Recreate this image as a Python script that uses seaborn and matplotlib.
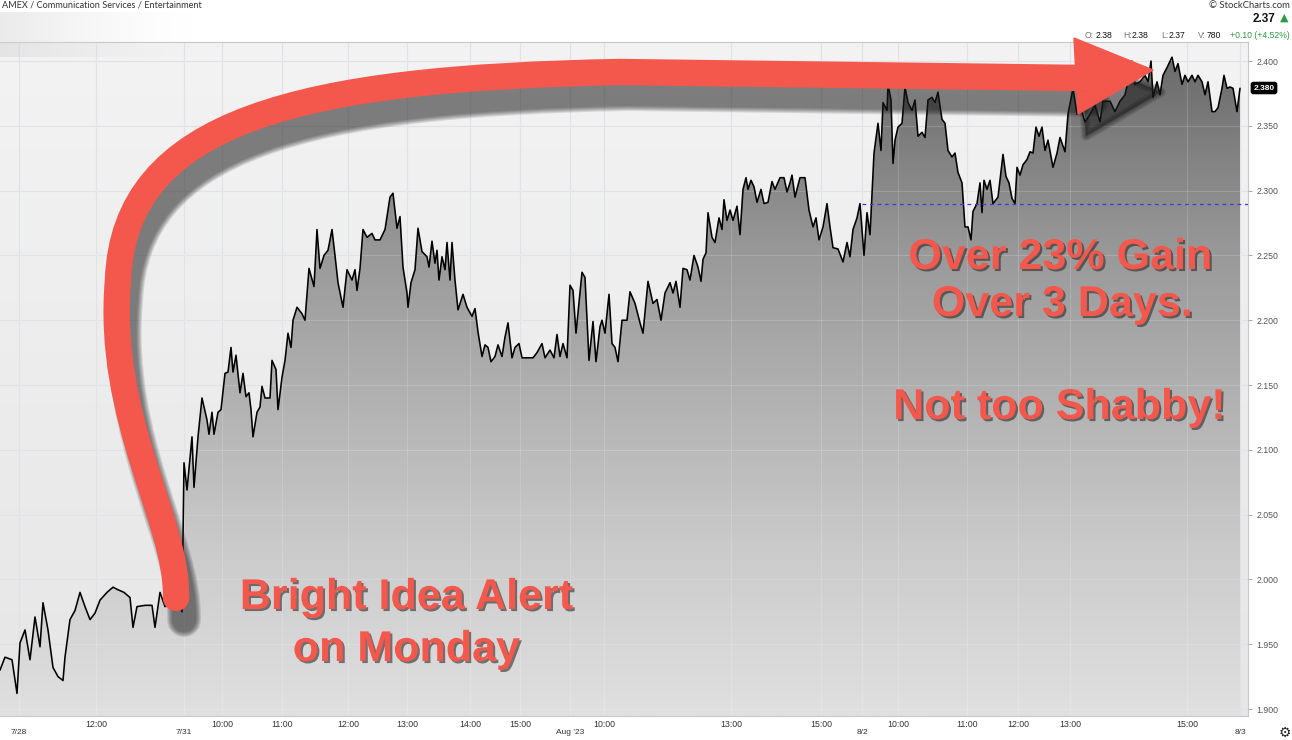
import numpy as np
import matplotlib
matplotlib.use('Agg')
import matplotlib.pyplot as plt
import matplotlib.patheffects as pe
from matplotlib.colors import LinearSegmentedColormap
from matplotlib.patches import Polygon, PathPatch
from matplotlib.path import Path
from matplotlib.transforms import Affine2D
import seaborn as sns

# intraday bars (bar index along the session axis) and closing prices
bar_idx = [0, 5, 12, 17, 20, 25, 30, 35, 40, 43, 48, 53, 58, 63, 65, 70, 75, 80, 85, 90,
           95, 100, 107, 113, 118, 124, 130, 133, 137, 145, 152, 155, 160, 165, 170, 175, 180, 182,
           184, 187, 192, 194, 198, 202, 207, 209, 212, 214, 218, 221, 225, 228, 231, 233, 236, 240,
           243, 246, 249, 251, 253, 257, 260, 262, 265, 270, 272, 276, 278, 282, 285, 288, 291, 293,
           297, 302, 305, 309, 314, 317, 320, 324, 328, 332, 335, 338, 343, 347, 352, 355, 357, 360,
           363, 367, 372, 375, 380, 385, 390, 393, 397, 400, 403, 407, 408, 411, 415, 418, 422, 427,
           429, 432, 435, 437, 439, 442, 445, 447, 450, 452, 455, 458, 463, 467, 472, 475, 478, 482,
           485, 488, 491, 495, 498, 502, 505, 508, 512, 515, 519, 522, 533, 537, 542, 545, 550, 554,
           557, 560, 563, 567,
           570, 573, 576, 582, 585, 589, 593, 596, 600, 602, 605, 609, 612, 615, 618, 622, 627, 630,
           635, 640, 643, 648, 653, 657, 661, 665, 670, 673, 676, 680, 683, 687, 690, 694, 698, 701,
           703, 706, 708, 712, 715, 719, 722, 724, 727, 730, 733, 737, 740, 743, 746, 748, 751, 754,
           757, 761, 764, 768, 772, 775, 780, 784, 787, 790, 792, 795, 800, 805, 809, 813, 816, 819,
           823, 827, 830, 833, 838, 843, 847, 850, 853, 857, 860, 864, 867, 870,
           874, 878, 881, 883, 887, 888, 891, 893, 895, 898, 902, 905, 908, 912, 915, 918, 922, 925,
           928, 932, 935, 938, 942, 945, 948, 952, 955, 958, 962, 965, 968, 971, 973, 977, 980, 982,
           984, 987, 990, 993, 998, 1003, 1006, 1009, 1012, 1015, 1017, 1020, 1023, 1027, 1030, 1033,
           1036, 1039, 1042, 1045, 1048, 1053, 1057, 1060, 1065, 1068, 1073, 1077, 1080, 1085, 1090,
           1095, 1100, 1103, 1110, 1115, 1120, 1125, 1128, 1132, 1135, 1140, 1145, 1148, 1151, 1153,
           1157, 1160, 1163, 1167, 1172, 1175, 1178, 1182, 1185, 1188, 1192, 1195, 1198, 1202, 1205,
           1208, 1212, 1215, 1218, 1222, 1224, 1227, 1230, 1233, 1237, 1240]
close = [1.930, 1.940, 1.938, 1.912, 1.951, 1.961, 1.938, 1.971, 1.948, 1.982, 1.961, 1.932, 1.925,
         1.922, 1.940, 1.969, 1.976, 1.990, 1.979, 1.969, 1.974, 1.984, 1.990, 1.994, 1.992, 1.990,
         1.986, 1.963, 1.979, 1.980, 1.980, 1.963, 1.990, 1.979, 1.984, 1.976, 1.979, 1.975,
         2.090, 2.069, 2.110, 2.071, 2.110, 2.140, 2.123, 2.112, 2.129, 2.112, 2.129, 2.131, 2.159,
         2.160, 2.179, 2.160, 2.173, 2.144, 2.159, 2.141, 2.144, 2.131, 2.110, 2.129, 2.133, 2.149,
         2.140, 2.140, 2.169, 2.162, 2.131, 2.156, 2.169, 2.190, 2.179, 2.200, 2.210, 2.205, 2.200,
         2.240, 2.226, 2.270, 2.240, 2.250, 2.254, 2.270, 2.250, 2.229, 2.210, 2.239, 2.231, 2.239,
         2.223, 2.240, 2.270, 2.264, 2.267, 2.262, 2.262, 2.270, 2.295, 2.298, 2.271, 2.280, 2.241,
         2.221, 2.210, 2.229, 2.239, 2.271, 2.253, 2.249, 2.241, 2.261, 2.244, 2.254, 2.231, 2.249,
         2.239, 2.260, 2.231, 2.260, 2.231, 2.208, 2.220, 2.210, 2.203, 2.209, 2.191, 2.172, 2.181,
         2.179, 2.168, 2.172, 2.181, 2.172, 2.187, 2.198, 2.171, 2.179, 2.182, 2.171, 2.171, 2.175,
         2.182, 2.171, 2.177, 2.171, 2.189, 2.172, 2.182, 2.171,
         2.227, 2.223, 2.190, 2.237, 2.233, 2.169, 2.199, 2.168, 2.195, 2.200, 2.190, 2.220, 2.182,
         2.179, 2.168, 2.200, 2.200, 2.222, 2.213, 2.198, 2.190, 2.230, 2.213, 2.216, 2.200, 2.221,
         2.229, 2.221, 2.230, 2.210, 2.240, 2.239, 2.231, 2.250, 2.241, 2.230, 2.247, 2.252, 2.283,
         2.264, 2.260, 2.279, 2.270, 2.293, 2.277, 2.285, 2.277, 2.288, 2.266, 2.301, 2.310, 2.301,
         2.308, 2.303, 2.291, 2.301, 2.290, 2.291, 2.307, 2.301, 2.310, 2.310, 2.299, 2.306, 2.312,
         2.295, 2.310, 2.310, 2.285, 2.272, 2.279, 2.262, 2.272, 2.290, 2.272, 2.256, 2.255, 2.245,
         2.260, 2.249, 2.270, 2.279, 2.290, 2.250, 2.283, 2.266,
         2.329, 2.352, 2.331, 2.368, 2.362, 2.382, 2.370, 2.321, 2.339, 2.349, 2.352, 2.380, 2.368,
         2.362, 2.370, 2.342, 2.345, 2.341, 2.370, 2.372, 2.368, 2.376, 2.355, 2.352, 2.331, 2.326,
         2.329, 2.314, 2.306, 2.272, 2.272, 2.262, 2.284, 2.290, 2.306, 2.283, 2.308, 2.301, 2.308,
         2.290, 2.295, 2.328, 2.311, 2.306, 2.294, 2.290, 2.318, 2.312, 2.320, 2.324, 2.330, 2.329,
         2.349, 2.342, 2.349, 2.331, 2.339, 2.318, 2.329, 2.341, 2.330, 2.359, 2.379, 2.359, 2.366,
         2.353, 2.359, 2.366, 2.353, 2.369, 2.369, 2.361, 2.369, 2.374, 2.384, 2.400, 2.382, 2.384,
         2.389, 2.384, 2.400, 2.372, 2.384, 2.374, 2.389, 2.395, 2.403, 2.392, 2.398, 2.382, 2.389,
         2.384, 2.389, 2.384, 2.389, 2.384, 2.374, 2.384, 2.361, 2.361, 2.364, 2.379, 2.389, 2.379,
         2.380, 2.379, 2.361, 2.379]

time_pos = [96, 222, 282, 348, 407, 470, 520, 604, 731, 821, 898, 967, 1018, 1070, 1187]
time_lbl = ['12:00', '10:00', '11:00', '12:00', '13:00', '14:00', '15:00', '10:00', '13:00',
            '15:00', '10:00', '11:00', '12:00', '13:00', '15:00']
date_pos = [19, 184, 570, 862, 1240]
date_lbl = ['7/28', '7/31', "Aug '23", '8/2', '8/3']
price_ticks = [1.90, 1.95, 2.00, 2.05, 2.10, 2.15, 2.20, 2.25, 2.30, 2.35, 2.40]
ref_level = 2.29
last_close = 2.38
red = '#f4584c'

sns.set_theme(style='white')
plt.rcParams['font.family'] = ['Liberation Sans', 'DejaVu Sans']

fig = plt.figure(figsize=(12.92, 7.40), dpi=100)
ax = fig.add_axes([0, 24 / 740, 1248 / 1292, 674 / 740])
x0, x1 = 0, 1248
y0, y1 = 1.8946, 2.4147

# background + area gradient
bg = LinearSegmentedColormap.from_list('bg', ['#e6e6e6', '#f3f3f3'])
ax.imshow(np.linspace(0, 1, 256).reshape(-1, 1), extent=[x0, x1, y0, y1], origin='lower',
          aspect='auto', cmap=bg, zorder=0)
area = LinearSegmentedColormap.from_list('area', [(0, '#e0e0e0'), (0.25, '#cbcbcb'),
                                                  (0.7, '#9a9a9a'), (1, '#6c6c6c')])
im = ax.imshow(np.linspace(0, 1, 256).reshape(-1, 1), extent=[x0, x1, y0, 2.40], origin='lower',
               aspect='auto', cmap=area, zorder=3)
verts = list(zip(bar_idx, close)) + [(bar_idx[-1], y0), (bar_idx[0], y0)]
clip = Polygon(verts, closed=True, facecolor='none', edgecolor='none', transform=ax.transData)
ax.add_patch(clip)
im.set_clip_path(clip)

# faint grid visible through the shaded area
ax.vlines(time_pos + date_pos, y0, y1, colors='white', alpha=0.16, linewidth=0.8, zorder=3.5)
ax.hlines(price_ticks, x0, x1, colors='white', alpha=0.16, linewidth=0.8, zorder=3.5)

sns.lineplot(x=bar_idx, y=close, ax=ax, color='black', linewidth=1.15, zorder=4)
ax.hlines(ref_level, 862, x1, colors='#3b3bd6', linestyles=(0, (3, 3)), linewidth=0.9, zorder=5)

ax.set_xlim(x0, x1)
ax.set_ylim(y0, y1)
ax.set_xticks(time_pos)
ax.set_xticklabels(time_lbl)
ax.set_xticks(date_pos, minor=True)
ax.set_xticklabels(date_lbl, minor=True)
ax.tick_params(axis='x', which='major', length=0, pad=3, labelsize=6.3, colors='#333333')
ax.tick_params(axis='x', which='minor', length=9, width=0.6, color='#bbbbbb', pad=0.5,
               labelsize=6.0, labelcolor='#333333')
ax.yaxis.tick_right()
ax.set_yticks(price_ticks)
ax.set_yticklabels([f'{v:.3f}' for v in price_ticks])
ax.tick_params(axis='y', length=3, width=0.6, color='#999999', pad=3, labelsize=6.3,
               labelcolor='#555555')
ax.grid(True, which='both', color='#dcdde2', linewidth=0.8)
ax.set_axisbelow('line')
for s in ['top', 'bottom', 'right']:
    ax.spines[s].set_color('#c8c8c8')
    ax.spines[s].set_linewidth(0.8)
ax.spines['left'].set_visible(False)
ax.set_xlabel('')
ax.set_ylabel('')

# overlay in pixel coordinates for the annotations
ov = fig.add_axes([0, 0, 1, 1])
ov.set_xlim(0, 1292)
ov.set_ylim(740, 0)
ov.axis('off')
ov.patch.set_alpha(0)

# blurred ticker block
blur = np.linspace(1, 0, 200).reshape(1, -1) ** 1.5
ov.imshow(np.dstack([np.full((1, 200), 0.84)] * 3 + [blur * 0.5]), extent=[0, 200, 57, 12],
          aspect='auto', interpolation='bilinear', zorder=1)

# big curved arrow
P = Path.MOVETO, Path.CURVE4, Path.LINETO
arrow_path = Path([(176, 598), (178, 520), (106, 420), (118, 280), (124, 120), (300, 78),
                   (620, 72), (1085, 78)],
                  [P[0], P[1], P[1], P[1], P[1], P[1], P[1], P[2]])
head = [(1074, 38), (1153, 70), (1078, 114)]
shift = Affine2D().translate(8, 22) + ov.transData
for w in [34, 32, 30, 28, 26, 24]:
    ov.add_patch(PathPatch(arrow_path, facecolor='none', edgecolor='#1e1e1e', lw=w * 0.72,
                           capstyle='round', alpha=0.12, transform=shift, zorder=6))
    ov.add_patch(Polygon(head, closed=True, facecolor='#1e1e1e', edgecolor='#1e1e1e',
                         lw=max(w - 24, 0.1) * 0.72, alpha=0.12, joinstyle='round',
                         transform=shift, zorder=6))
ov.add_patch(PathPatch(arrow_path, facecolor='none', edgecolor=red, lw=19,
                       capstyle='round', joinstyle='round', zorder=7))
ov.add_patch(Polygon(head, closed=True, facecolor=red, edgecolor=red, lw=1, zorder=7))

shadow = [pe.SimplePatchShadow(offset=(1.5, -1.5), shadow_rgbFace='#2a2a2a', alpha=0.6),
          pe.Normal()]
for txt, x, y in [('Bright Idea Alert', 406, 598), ('on Monday', 406, 650),
                  ('Over 23% Gain', 1060, 258), ('Over 3 Days.', 1062, 305),
                  ('Not too Shabby!', 1059, 408)]:
    ov.text(x, y, txt, fontsize=31, fontweight='bold', color=red, ha='center', va='center',
            path_effects=shadow, zorder=8)

# header
ov.text(2, 5, 'AMEX / Communication Services / Entertainment', fontsize=6.6, color='#333333',
        family='Lato', ha='left', va='center', zorder=9)
ov.text(1290, 5, '© StockCharts.com', fontsize=6.8, color='#333333', family='Lato',
        ha='right', va='center', zorder=9)
ov.text(1275, 19, f'{last_close - 0.01:.2f}', fontsize=8.5, fontweight='bold', color='#111111',
        ha='right', va='center', zorder=9)
ov.text(1280, 18, '▲', family='DejaVu Sans', fontsize=8, color='#2e9a44', ha='left',
        va='center', zorder=9)
for txt, x, col in [('O:', 1085, '#777777'), ('2.38', 1096, '#111111'), ('H:', 1123, '#777777'),
                    ('2.38', 1132, '#111111'), ('L:', 1161, '#777777'), ('2.37', 1169, '#111111'),
                    ('V:', 1198, '#777777'), ('780', 1207, '#111111'),
                    ('+0.10 (+4.52%)', 1230, '#2e9a44')]:
    ov.text(x, 35, txt, fontsize=6.2, color=col, ha='left', va='center', zorder=9)

ov.text(1264, 88, f'{last_close:.3f}', fontsize=6, fontweight='bold', color='white',
        ha='center', va='center', zorder=9,
        bbox=dict(boxstyle='round,pad=0.25', facecolor='black', edgecolor='black'))
ov.text(1285, 733, '⚙', family='DejaVu Sans', fontsize=10, color='#222222', ha='center',
        va='center', zorder=9)

fig.savefig('out.png', dpi=100)
